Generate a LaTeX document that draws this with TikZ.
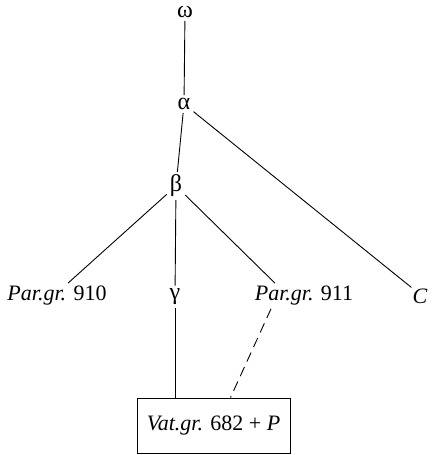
\documentclass[tikz,border=0pt]{standalone}
\usepackage{fontspec}
\setmainfont{Liberation Serif}
\usetikzlibrary{calc}
\tikzset{
  lbl/.style={inner sep=3pt, font=\fontsize{22}{26}\selectfont},
  glbl/.style={inner sep=3pt, font=\fontsize{24}{28}\selectfont},
  vbox/.style={draw, line width=0.9pt, minimum width=153pt, minimum height=55pt, inner sep=0pt, font=\fontsize{22}{26}\selectfont},
  edge/.style={line width=0.9pt},
  dedge/.style={line width=0.9pt, dash pattern=on 10pt off 6pt}
}
\begin{document}
\begin{tikzpicture}[x=1pt,y=-1pt]
\useasboundingbox (0,0) rectangle (435,455);
\node[glbl] (om) at (185,12) {ω};
\node[glbl] (al) at (184,104) {α};
\node[glbl] (be) at (176,186) {β};
\node[lbl] (p910) at (57,296) {\textit{Par.gr.} 910};
\node[glbl] (ga) at (175,297) {γ};
\node[lbl] (p911) at (304,296) {\textit{Par.gr.} 911};
\node[lbl] (C) at (420,296) {\textit{C}};
\node[vbox] (vat) at (213.5,425.5) {\textit{Vat.gr.} 682 + \textit{P}};
\draw[edge] (om) -- (al);
\draw[edge] (al) -- (be);
\draw[edge] (al) -- ($(C.north west)+(2,2)$);
\draw[edge] (be) -- ($(p910.north)+(11,0)$);
\draw[edge] (be) -- (ga);
\draw[edge] (be) -- ($(p911.north)+(-29,0)$);
\draw[edge] (ga) -- (ga |- vat.north);
\draw[dedge] ($(p911.south)+(-33,0)$) -- ($(vat.north)+(17,0)$);
\end{tikzpicture}
\end{document}
